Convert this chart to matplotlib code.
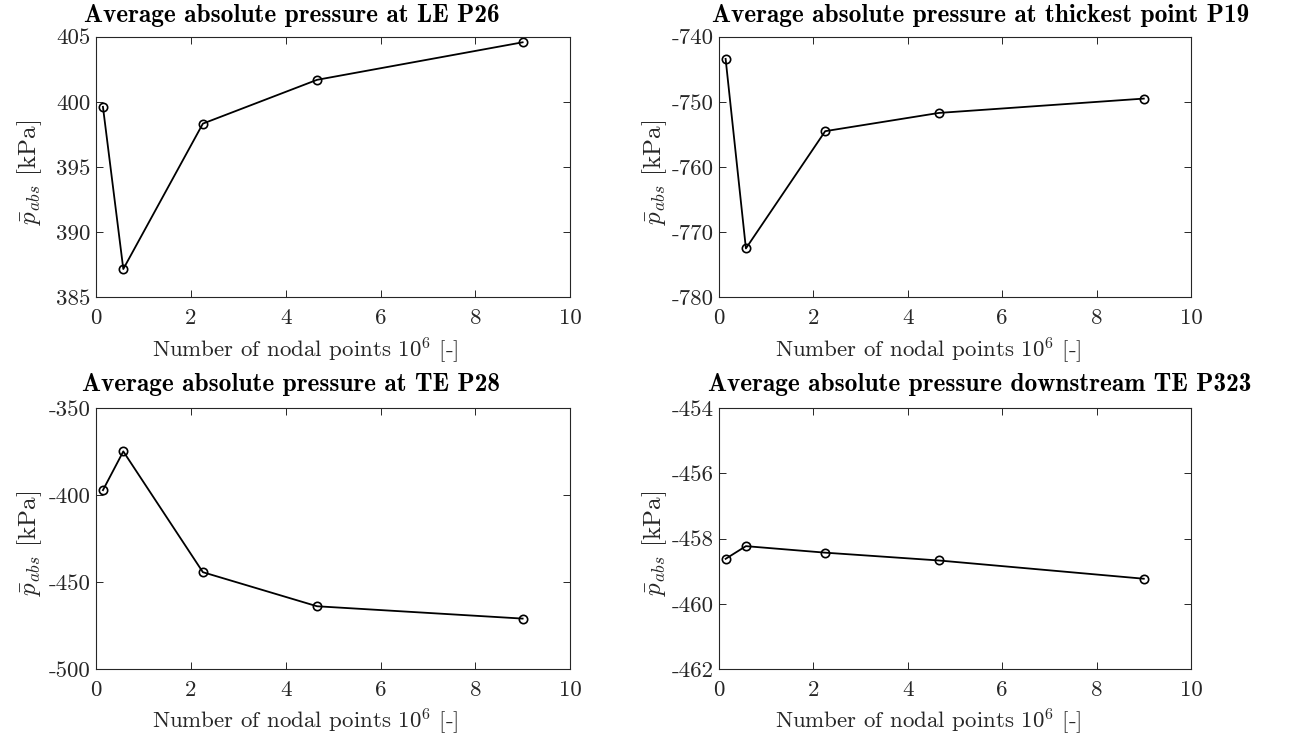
import matplotlib
matplotlib.use('Agg')
import matplotlib.pyplot as plt


#**************************************************#
# data

# number of nodal points, in millions
nodes = [0.14, 0.57, 2.25, 4.66, 9.0]

p_le_p26 = [399.62, 387.17, 398.33, 401.69, 404.57]
p_thick_p19 = [-743.4, -772.5, -754.5, -751.7, -749.5]
p_te_p28 = [-397.1, -374.8, -444.3, -463.9, -471.0]
p_down_p323 = [-458.62, -458.23, -458.43, -458.67, -459.23]

titles = ['Average absolute pressure at LE P26',
          'Average absolute pressure at thickest point P19',
          'Average absolute pressure at TE P28',
          'Average absolute pressure downstream TE P323']

yticks_le = [385, 390, 395, 400, 405]
yticks_thick = [-780, -770, -760, -750, -740]
yticks_te = [-500, -450, -400, -350]
yticks_down = [-462, -460, -458, -456, -454]
xticks = [0, 2, 4, 6, 8, 10]


#**************************************************#
# style, close to a matlab figure with latex text

plt.rcParams['font.family'] = 'cmr10'
plt.rcParams['mathtext.fontset'] = 'cm'
plt.rcParams['axes.unicode_minus'] = False
plt.rcParams['axes.formatter.use_mathtext'] = True

axis_grey = '#262626'

fig = plt.figure(figsize=(13.14, 7.42), dpi=100)

W, H = 1314.0, 742.0
# axes boxes in pixels: left, top, right, bottom
boxes = [(96.3, 36.7, 570.0, 297.3),
         (719.0, 36.7, 1191.0, 297.3),
         (96.3, 408.3, 570.0, 669.0),
         (719.0, 408.3, 1191.0, 669.0)]
title_pos = [(292, 22), (981, 22), (291, 391), (980, 391)]
xlabel_cx = [305, 928, 305, 928]
ylabel_cx = [30, 655, 30, 655]

series = [p_le_p26, p_thick_p19, p_te_p28, p_down_p323]
yticks = [yticks_le, yticks_thick, yticks_te, yticks_down]

for i in range(4):
    l, t, r, b = boxes[i]
    ax = fig.add_axes([l / W, (H - b) / H, (r - l) / W, (b - t) / H])

    ax.plot(nodes, series[i], color='k', lw=1.3, marker='o',
            markersize=6, markerfacecolor='none', markeredgewidth=1.2)

    ax.set_xlim(0, 10)
    ax.set_ylim(yticks[i][0], yticks[i][-1])
    ax.set_xticks(xticks, labels=[str(v) for v in xticks])
    ax.set_yticks(yticks[i], labels=[str(v) for v in yticks[i]])

    ax.tick_params(direction='in', top=True, right=True, length=5,
                   width=0.7, colors=axis_grey, labelsize=16.5)
    ax.tick_params(axis='x', pad=8)
    ax.tick_params(axis='y', pad=4)
    for s in ax.spines.values():
        s.set_color(axis_grey)
        s.set_linewidth(0.8)

    # title, x label and y label placed like the original
    tx, ty = title_pos[i]
    fig.text(tx / W, (H - ty) / H, titles[i], fontfamily='cmb10',
             fontsize=18.2, ha='center', va='baseline', color='k')

    ax.text((xlabel_cx[i] - l) / (r - l), -(60.0) / (b - t),
            'Number of nodal points $10^6$ [-]', transform=ax.transAxes,
            fontsize=16.5, ha='center', va='baseline', color=axis_grey)

    ax.text((ylabel_cx[i] - l) / (r - l), 0.48, r'$\bar{p}_{abs}$ [kPa]',
            transform=ax.transAxes, rotation=90, fontsize=18,
            ha='center', va='center', color=axis_grey)

fig.savefig('out.png', dpi=100)
